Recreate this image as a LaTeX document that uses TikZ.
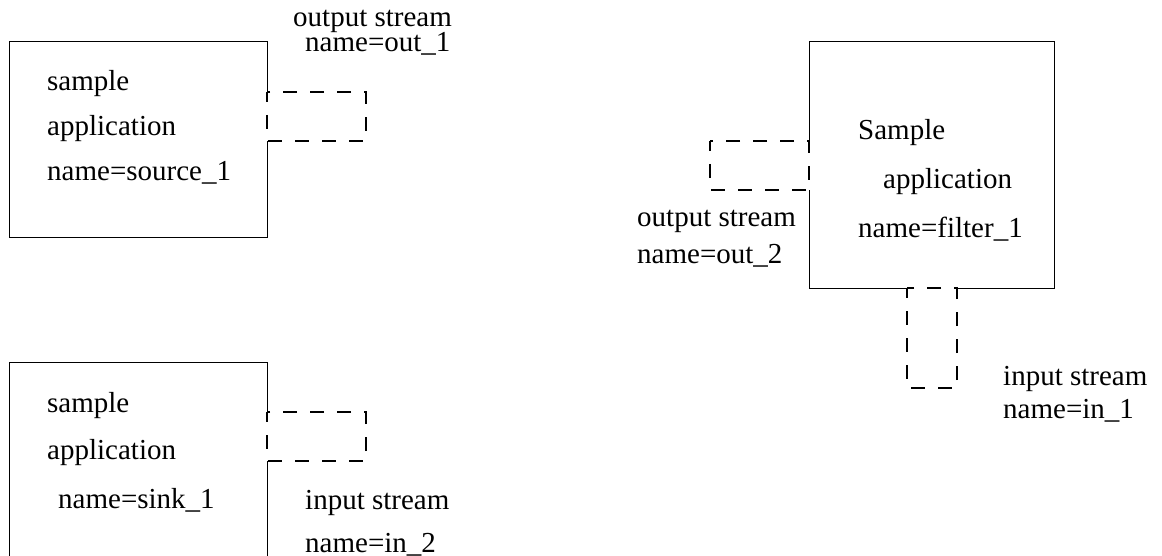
\documentclass[tikz,border=0pt]{standalone}
\usepackage{fontspec}
\setmainfont{Liberation Serif}
\begin{document}
\begin{tikzpicture}[x=1pt,y=-1pt,
  lbl/.style={anchor=base west,inner sep=0pt,font=\fontsize{29}{34}\selectfont},
  boxline/.style={line width=1pt,line join=miter},
  port/.style={line width=2pt,dash pattern=on 14pt off 13pt,dash phase=4pt}]
\useasboundingbox (0,0) rectangle (1162,556);
\clip (0,0) rectangle (1162,556);
% ---------- box 1 : source ----------
\coordinate (b1tl) at (9,42);
\coordinate (b1br) at (267,238);
\coordinate (p1a) at (267,92);
\coordinate (p1b) at (366,141);
\draw[boxline] (p1a) -- (267,42) -- (b1tl) -- (9,238) -- (b1br) -- (267,141);
\draw[port] (p1a) rectangle (p1b);
\node[lbl] (s1l1) at (47,91) {sample};
\node[lbl] (s1l2) at (47,136) {application};
\node[lbl] (s1l3) at (47,181) {name=source\_1};
\node[lbl] (o1l1) at (293,27) {output stream};
\node[lbl] (o1l2) at (305,52) {name=out\_1};
% ---------- box 2 : filter ----------
\coordinate (b2tl) at (809,42);
\coordinate (b2br) at (1054,288);
\coordinate (p2a) at (710,141);
\coordinate (p2b) at (809,190);
\coordinate (p3a) at (907,288);
\coordinate (p3b) at (957,388);
\draw[boxline] (809,141) -- (b2tl) -- (1054,42) -- (b2br) -- (957,288);
\draw[boxline] (907,288) -- (809,288) -- (p2b);
\draw[port] (p2a) rectangle (p2b);
\draw[port] (p3a) rectangle (p3b);
\node[lbl] (f1l1) at (858,140) {Sample};
\node[lbl] (f1l2) at (883,189) {application};
\node[lbl] (f1l3) at (858,237) {name=filter\_1};
\node[lbl] (o2l1) at (637,226) {output stream};
\node[lbl] (o2l2) at (637,263) {name=out\_2};
\node[lbl] (i1l1) at (1003,385) {input stream};
\node[lbl] (i1l2) at (1003,418) {name=in\_1};
% ---------- box 3 : sink ----------
\coordinate (b3tl) at (9,362);
\coordinate (p4a) at (267,412);
\coordinate (p4b) at (366,461);
\draw[boxline] (p4a) -- (267,362) -- (b3tl) -- (9,600);
\draw[boxline] (267,461) -- (267,600);
\draw[port] (p4a) rectangle (p4b);
\node[lbl] (k1l1) at (47,412) {sample};
\node[lbl] (k1l2) at (47,459) {application};
\node[lbl] (k1l3) at (58,508) {name=sink\_1};
\node[lbl] (i2l1) at (305,509) {input stream};
\node[lbl] (i2l2) at (305,552) {name=in\_2};
\end{tikzpicture}
\end{document}
